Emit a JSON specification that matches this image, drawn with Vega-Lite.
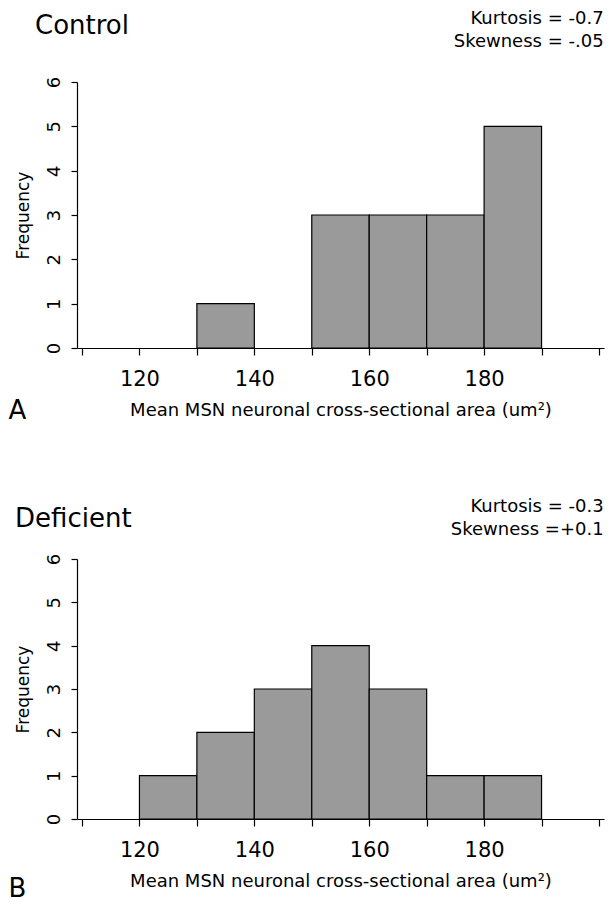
{
  "$schema": "https://vega.github.io/schema/vega-lite/v6.json",
  "padding": {"left": 8, "top": 10, "right": 4, "bottom": 0},
  "spacing": 73,
  "config": {
    "font": "DejaVu Sans",
    "view": {"stroke": null},
    "axis": {
      "grid": false,
      "domainColor": "black",
      "domainWidth": 1.2,
      "tickColor": "black",
      "tickWidth": 1.2,
      "labelColor": "black",
      "titleColor": "black",
      "titleFontWeight": "normal"
    }
  },
  "datasets": {
    "control": [
      {"bin_start": 130, "bin_end": 140, "count": 1},
      {"bin_start": 150, "bin_end": 160, "count": 3},
      {"bin_start": 160, "bin_end": 170, "count": 3},
      {"bin_start": 170, "bin_end": 180, "count": 3},
      {"bin_start": 180, "bin_end": 190, "count": 5}
    ],
    "deficient": [
      {"bin_start": 120, "bin_end": 130, "count": 1},
      {"bin_start": 130, "bin_end": 140, "count": 2},
      {"bin_start": 140, "bin_end": 150, "count": 3},
      {"bin_start": 150, "bin_end": 160, "count": 4},
      {"bin_start": 160, "bin_end": 170, "count": 3},
      {"bin_start": 170, "bin_end": 180, "count": 1},
      {"bin_start": 180, "bin_end": 190, "count": 1}
    ]
  },
  "vconcat": [
    {
      "width": 527,
      "height": 266,
      "title": {"text": "Control", "anchor": "start", "frame": "group", "dx": -42, "fontSize": 26, "fontWeight": "normal", "offset": -29, "color": "black"},
      "layer": [
        {
          "data": {"name": "control"},
          "mark": {"type": "bar", "orient": "vertical", "fill": "#9a9a9a", "stroke": "black", "strokeWidth": 1.2},
          "encoding": {
            "x": {
              "field": "bin_start", "type": "quantitative",
              "scale": {"domain": [110, 200], "nice": false, "zero": false},
              "axis": {
                "values": [110, 120, 130, 140, 150, 160, 170, 180, 190, 200],
                "labelExpr": "indexof([120, 140, 160, 180], datum.value) >= 0 ? datum.label : ''",
                "labelFontSize": 21, "labelPadding": 13, "tickSize": 7,
                "title": "Mean MSN neuronal cross-sectional area (um²)",
                "titleFontSize": 18, "titlePadding": 12
              }
            },
            "x2": {"field": "bin_end"},
            "y": {
              "field": "count", "type": "quantitative",
              "scale": {"domain": [0, 6], "nice": false},
              "axis": {
                "values": [0, 1, 2, 3, 4, 5, 6],
                "labelAngle": 270, "labelFontSize": 18, "labelPadding": 8, "tickSize": 6,
                "title": "Frequency", "titleFontSize": 17, "titlePadding": 13
              }
            },
            "y2": {"datum": 0}
          }
        },
        {
          "data": {"values": [{}]},
          "mark": {"type": "text", "align": "right", "baseline": "top", "fontSize": 18, "lineHeight": 23, "color": "black"},
          "encoding": {
            "x": {"datum": 200.8, "type": "quantitative"},
            "y": {"datum": 7.62, "type": "quantitative"},
            "text": {"value": ["Kurtosis = -0.7", "Skewness = -.05"]}
          }
        },
        {
          "data": {"values": [{}]},
          "mark": {"type": "text", "align": "left", "baseline": "alphabetic", "fontSize": 26, "color": "black"},
          "encoding": {
            "x": {"datum": 97.2, "type": "quantitative"},
            "y": {"datum": -1.6, "type": "quantitative"},
            "text": {"value": "A"}
          }
        }
      ]
    },
    {
      "width": 527,
      "height": 260,
      "title": {"text": "Deficient", "anchor": "start", "frame": "group", "dx": -62, "fontSize": 26, "fontWeight": "normal", "offset": -34, "color": "black"},
      "layer": [
        {
          "data": {"name": "deficient"},
          "mark": {"type": "bar", "orient": "vertical", "fill": "#9a9a9a", "stroke": "black", "strokeWidth": 1.2},
          "encoding": {
            "x": {
              "field": "bin_start", "type": "quantitative",
              "scale": {"domain": [110, 200], "nice": false, "zero": false},
              "axis": {
                "values": [110, 120, 130, 140, 150, 160, 170, 180, 190, 200],
                "labelExpr": "indexof([120, 140, 160, 180], datum.value) >= 0 ? datum.label : ''",
                "labelFontSize": 21, "labelPadding": 13, "tickSize": 7,
                "title": "Mean MSN neuronal cross-sectional area (um²)",
                "titleFontSize": 18, "titlePadding": 12
              }
            },
            "x2": {"field": "bin_end"},
            "y": {
              "field": "count", "type": "quantitative",
              "scale": {"domain": [0, 6], "nice": false},
              "axis": {
                "values": [0, 1, 2, 3, 4, 5, 6],
                "labelAngle": 270, "labelFontSize": 18, "labelPadding": 8, "tickSize": 6,
                "title": "Frequency", "titleFontSize": 17, "titlePadding": 13
              }
            },
            "y2": {"datum": 0}
          }
        },
        {
          "data": {"values": [{}]},
          "mark": {"type": "text", "align": "right", "baseline": "top", "fontSize": 18, "lineHeight": 23, "color": "black"},
          "encoding": {
            "x": {"datum": 200.8, "type": "quantitative"},
            "y": {"datum": 7.41, "type": "quantitative"},
            "text": {"value": ["Kurtosis = -0.3", "Skewness =+0.1"]}
          }
        },
        {
          "data": {"values": [{}]},
          "mark": {"type": "text", "align": "left", "baseline": "alphabetic", "fontSize": 26, "color": "black"},
          "encoding": {
            "x": {"datum": 97.2, "type": "quantitative"},
            "y": {"datum": -1.8, "type": "quantitative"},
            "text": {"value": "B"}
          }
        }
      ]
    }
  ]
}
